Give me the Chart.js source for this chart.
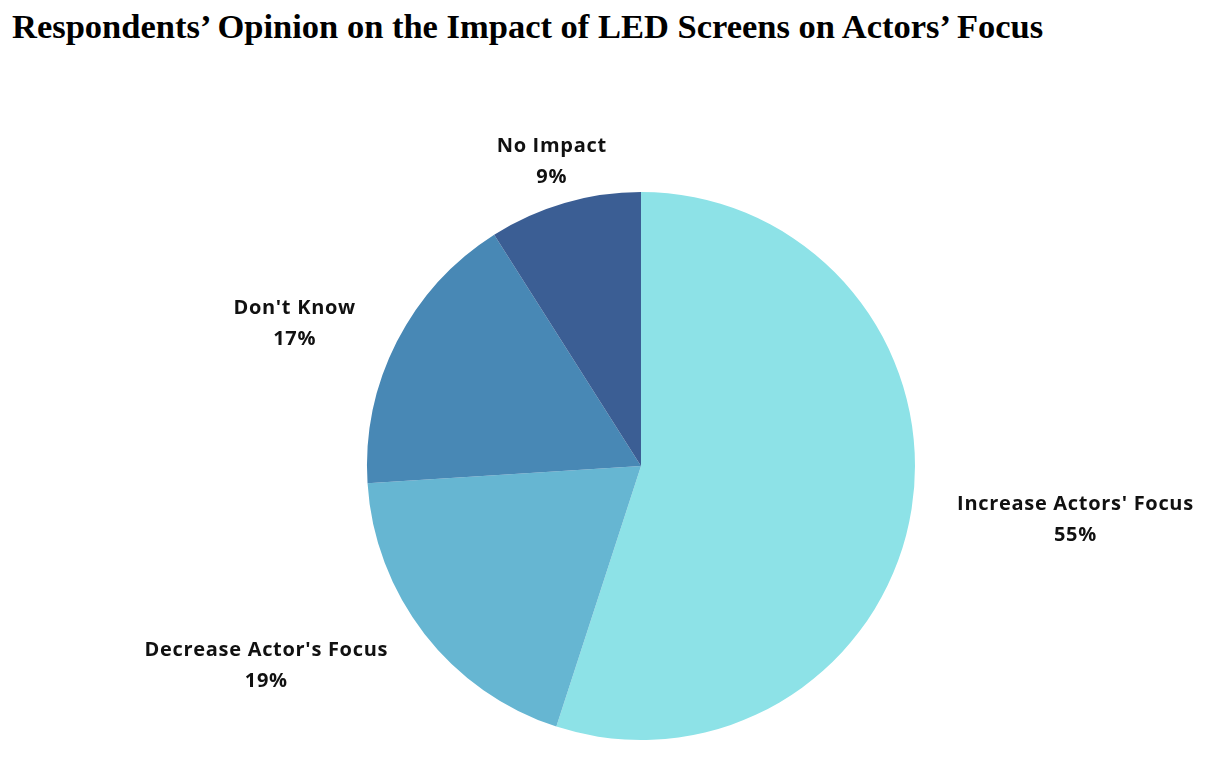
<!DOCTYPE html>
<html>
<head>
<meta charset="utf-8">
<script src="https://cdn.jsdelivr.net/npm/chart.js@4.4.1/dist/chart.umd.min.js"></script>
<style>
    body { margin: 0; background: #ffffff; }
    #wrap { position: relative; width: 1213px; height: 775px; }
    h1 {
        position: absolute; left: 12px; top: 6px; margin: 0;
        font-family: "Liberation Serif", "Times New Roman", serif;
        font-weight: bold; font-size: 34.5px; line-height: 40px; color: #000; white-space: nowrap;
    }
    canvas { position: absolute; left: 0; top: 0; }
</style>
</head>
<body>
<div id="wrap">
    <h1>Respondents’ Opinion on the Impact of LED Screens on Actors’ Focus</h1>
    <canvas id="pie" width="1213" height="775"></canvas>
</div>
<script>
// slice data, clockwise from 12 o'clock
const categories = ["Increase Actors' Focus", "Decrease Actor's Focus", "Don't Know", "No Impact"];
const shares = [55, 19, 17, 9];
const sliceColors = ['#8de2e7', '#66b6d2', '#4888b5', '#3b5e94'];

// draws "name / pct%" outside each slice
const outsideLabels = {
    id: 'outsideLabels',
    afterDatasetsDraw(chart) {
        const ctx = chart.ctx;
        const meta = chart.getDatasetMeta(0);
        ctx.save();
        ctx.font = 'bold 20px "Open Sans", sans-serif';
        ctx.letterSpacing = '0.7px';
        ctx.fillStyle = '#111111';
        ctx.textBaseline = 'middle';
        meta.data.forEach((arc, i) => {
            const p = arc.getProps(['x', 'y', 'startAngle', 'endAngle', 'outerRadius'], true);
            const mid = (p.startAngle + p.endAngle) / 2;
            const d = p.outerRadius + 46;
            const cos = Math.cos(mid), sin = Math.sin(mid);
            const ax = p.x + cos * d;
            const ay = p.y + sin * d + 3;
            const w = Math.max(ctx.measureText(categories[i]).width, ctx.measureText(shares[i] + '%').width);
            let cx = ax;
            if (cos > 0.5) cx = ax + w / 2;
            else if (cos < -0.5) cx = ax - w / 2;
            ctx.textAlign = 'center';
            ctx.fillText(categories[i], cx, ay - 15);
            ctx.fillText(shares[i] + '%', cx, ay + 16);
        });
        ctx.restore();
    }
};

new Chart(document.getElementById('pie'), {
    type: 'pie',
    data: {
        labels: categories,
        datasets: [{
            data: shares,
            backgroundColor: sliceColors,
            borderWidth: 0
        }]
    },
    options: {
        responsive: false,
        animation: false,
        layout: { padding: { top: 192, bottom: 35, left: 100, right: 31 } },
        plugins: {
            legend: { display: false },
            tooltip: { enabled: false }
        }
    },
    plugins: [outsideLabels]
});
</script>
</body>
</html>
